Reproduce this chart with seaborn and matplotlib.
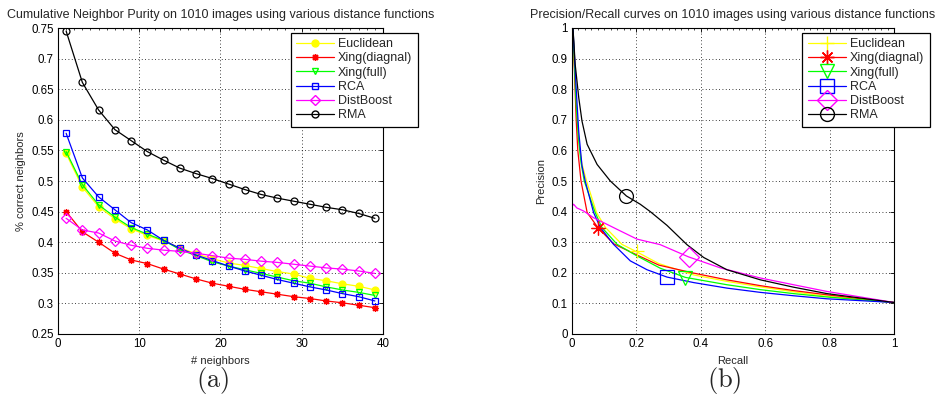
import numpy as np
import pandas as pd
import matplotlib
matplotlib.use("Agg")
import matplotlib.pyplot as plt
from matplotlib.lines import Line2D
from matplotlib.ticker import MultipleLocator
import seaborn as sns

# ---- data: (a) cumulative neighbor purity ----
neighbors = [1, 3, 5, 7, 9, 11, 13, 15, 17, 19, 21, 23, 25, 27, 29, 31, 33, 35, 37, 39]
euclidean = [0.545, 0.490, 0.458, 0.438, 0.422, 0.411, 0.402, 0.391, 0.381, 0.373,
             0.366, 0.362, 0.357, 0.352, 0.348, 0.341, 0.337, 0.332, 0.328, 0.322]
xing_diag = [0.450, 0.417, 0.400, 0.382, 0.371, 0.365, 0.356, 0.348, 0.340, 0.333,
             0.328, 0.323, 0.319, 0.315, 0.311, 0.308, 0.304, 0.301, 0.297, 0.293]
xing_full = [0.548, 0.494, 0.461, 0.441, 0.424, 0.413, 0.403, 0.388, 0.378, 0.368,
             0.361, 0.355, 0.349, 0.343, 0.337, 0.333, 0.327, 0.322, 0.318, 0.313]
rca = [0.578, 0.505, 0.474, 0.453, 0.432, 0.420, 0.403, 0.390, 0.379, 0.370,
       0.361, 0.353, 0.346, 0.339, 0.333, 0.327, 0.322, 0.316, 0.311, 0.304]
distboost = [0.439, 0.420, 0.415, 0.402, 0.395, 0.390, 0.387, 0.385, 0.382, 0.378,
             0.374, 0.372, 0.369, 0.367, 0.364, 0.361, 0.358, 0.356, 0.353, 0.349]
rma = [0.745, 0.661, 0.616, 0.584, 0.566, 0.548, 0.534, 0.521, 0.512, 0.504,
       0.495, 0.486, 0.478, 0.472, 0.467, 0.462, 0.457, 0.453, 0.447, 0.439]

# ---- data: (b) precision / recall curves ----
rec_euclid = [0.003, 0.008, 0.013, 0.020, 0.030, 0.045, 0.076, 0.104, 0.155, 0.202, 0.270, 0.378, 0.481, 0.585, 0.688, 0.792, 1.0]
pre_euclid = [1.0, 0.86, 0.74, 0.64, 0.56, 0.50, 0.397, 0.348, 0.293, 0.268, 0.230, 0.193, 0.172, 0.154, 0.138, 0.123, 0.103]
rec_xdiag = [0.003, 0.008, 0.013, 0.018, 0.028, 0.047, 0.081, 0.129, 0.202, 0.270, 0.378, 0.481, 0.585, 0.688, 0.792, 1.0]
pre_xdiag = [1.0, 0.85, 0.70, 0.60, 0.50, 0.397, 0.347, 0.295, 0.258, 0.225, 0.199, 0.177, 0.158, 0.142, 0.128, 0.103]
rec_xfull = [0.003, 0.008, 0.013, 0.020, 0.028, 0.038, 0.072, 0.093, 0.140, 0.202, 0.274, 0.352, 0.481, 0.585, 0.688, 0.792, 1.0]
pre_xfull = [1.0, 0.87, 0.75, 0.64, 0.56, 0.50, 0.397, 0.348, 0.293, 0.255, 0.215, 0.185, 0.161, 0.145, 0.132, 0.121, 0.103]
rec_rca = [0.003, 0.008, 0.013, 0.021, 0.031, 0.041, 0.067, 0.088, 0.129, 0.181, 0.233, 0.295, 0.378, 0.481, 0.585, 0.688, 0.792, 1.0]
pre_rca = [1.0, 0.90, 0.80, 0.66, 0.55, 0.50, 0.397, 0.348, 0.293, 0.239, 0.210, 0.186, 0.168, 0.150, 0.136, 0.125, 0.115, 0.103]
rec_dist = [0.0, 0.005, 0.015, 0.036, 0.067, 0.098, 0.140, 0.202, 0.274, 0.362, 0.461, 0.585, 0.688, 0.792, 1.0]
pre_dist = [0.418, 0.424, 0.412, 0.402, 0.380, 0.364, 0.342, 0.310, 0.292, 0.252, 0.216, 0.183, 0.161, 0.139, 0.103]
rec_rma = [0.003, 0.010, 0.021, 0.031, 0.047, 0.078, 0.119, 0.169, 0.212, 0.243, 0.295, 0.357, 0.409, 0.481, 0.585, 0.688, 0.792, 1.0]
pre_rma = [1.0, 0.88, 0.772, 0.696, 0.620, 0.554, 0.500, 0.451, 0.424, 0.400, 0.355, 0.292, 0.250, 0.210, 0.177, 0.153, 0.132, 0.103]

# single marker spots on the PR curves
mark_rec = [0.202, 0.081, 0.352, 0.295, 0.362, 0.169]
mark_pre = [0.272, 0.347, 0.183, 0.186, 0.252, 0.451]

names = ["Euclidean", "Xing(diagnal)", "Xing(full)", "RCA", "DistBoost", "RMA"]
colors = ["#ffff00", "#ff0000", "#00ff00", "#0000ff", "#ff00ff", "#000000"]
asterisk = (8, 2, 0)
markers_a = ["o", asterisk, "v", "s", "D", "o"]
markers_b = ["+", asterisk, "v", "s", "D", "o"]

sns.set_theme(style="white")
plt.rcParams["font.family"] = ["Liberation Sans", "DejaVu Sans"]
plt.rcParams["mathtext.fontset"] = "cm"

W, H = 937, 405
fig = plt.figure(figsize=(W / 100, H / 100), dpi=100)
ax1 = fig.add_axes([58 / W, 71 / H, 325 / W, 306 / H])
ax2 = fig.add_axes([572 / W, 71 / H, 322 / W, 306 / H])

# ---- panel (a) ----
series_a = [euclidean, xing_diag, xing_full, rca, distboost, rma]
for vals, name, c, m in zip(series_a, names, colors, markers_a):
    face = c if name == "Euclidean" else "none"
    sns.lineplot(x=neighbors, y=vals, ax=ax1, color=c, lw=0.9, marker=m, markersize=5,
                 markerfacecolor=face, markeredgecolor=c, markeredgewidth=0.9, label=name)
ax1.set_xlim(0, 40)
ax1.set_ylim(0.25, 0.75)
ax1.set_xticks([0, 10, 20, 30, 40])
ax1.set_yticks(np.arange(0.25, 0.751, 0.05))
ax1.set_yticklabels(["0.25", "0.3", "0.35", "0.4", "0.45", "0.5", "0.55", "0.6", "0.65", "0.7", "0.75"])
ax1.xaxis.set_minor_locator(MultipleLocator(1))
ax1.set_xlabel("# neighbors", fontsize=8, labelpad=4)
ax1.set_ylabel("% correct neighbors", fontsize=8, labelpad=4)
ax1.set_title("Cumulative Neighbor Purity on 1010 images using various distance functions",
              fontsize=9, pad=7)

# ---- panel (b) ----
curves = [(rec_euclid, pre_euclid), (rec_xdiag, pre_xdiag), (rec_xfull, pre_xfull),
          (rec_rca, pre_rca), (rec_dist, pre_dist), (rec_rma, pre_rma)]
for (r, p), c in zip(curves, colors):
    sns.lineplot(x=r, y=p, ax=ax2, color=c, lw=0.9, sort=False, estimator=None)
for i, (c, m) in enumerate(zip(colors, markers_b)):
    ax2.plot(mark_rec[i], mark_pre[i], linestyle="none", marker=m, markersize=10,
             markerfacecolor="none", markeredgecolor=c, markeredgewidth=0.9)
ax2.set_xlim(0, 1)
ax2.set_ylim(0, 1)
ax2.set_xticks([0, 0.2, 0.4, 0.6, 0.8, 1])
ax2.set_xticklabels(["0", "0.2", "0.4", "0.6", "0.8", "1"])
ax2.set_yticks(np.arange(0, 1.01, 0.1))
ax2.set_yticklabels(["0", "0.1", "0.2", "0.3", "0.4", "0.5", "0.6", "0.7", "0.8", "0.9", "1"])
ax2.xaxis.set_minor_locator(MultipleLocator(0.02))
ax2.set_xlabel("Recall", fontsize=8, labelpad=4)
ax2.set_ylabel("Precision", fontsize=8, labelpad=4)
ax2.set_title("Precision/Recall curves on 1010 images using various distance functions",
              fontsize=9, pad=7)

for ax in (ax1, ax2):
    ax.grid(True, which="major", color="black", linestyle=(0, (1, 3)), linewidth=0.6)
    ax.tick_params(which="both", direction="in", top=True, right=True, labelsize=8.3,
                   colors="black", pad=3)
    ax.tick_params(which="major", length=3, width=0.6)
    ax.tick_params(which="minor", length=1.5, width=0.5)
    for s in ax.spines.values():
        s.set_color("black")
        s.set_linewidth(0.8)

# legends, anchored at their top-left corner like the original
h_a = [Line2D([], [], color=c, lw=0.9, marker=m, markersize=5,
              markerfacecolor=(c if n == "Euclidean" else "none"), markeredgecolor=c)
       for n, c, m in zip(names, colors, markers_a)]
h_b = [Line2D([], [], color=c, lw=0.9, marker=m, markersize=10,
              markerfacecolor="none", markeredgecolor=c)
       for c, m in zip(colors, markers_b)]
for ax, h, x0 in ((ax1, h_a, 290.5), (ax2, h_b, 802.5)):
    leg = ax.legend(h, names, loc="upper left", bbox_to_anchor=(x0 / W, 1 - 32.5 / H),
                    bbox_transform=fig.transFigure, fontsize=9, fancybox=False,
                    edgecolor="black", framealpha=1, handlelength=3.0, labelspacing=0.18,
                    borderaxespad=0, handletextpad=0.35, borderpad=0.45)
    leg.get_frame().set_linewidth(0.9)

fig.text(213 / W, 0.06, r"$\mathrm{(a)}$", ha="center", va="center", fontsize=19)
fig.text(724 / W, 0.06, r"$\mathrm{(b)}$", ha="center", va="center", fontsize=19)

fig.savefig("out.png", dpi=100, facecolor="white")
